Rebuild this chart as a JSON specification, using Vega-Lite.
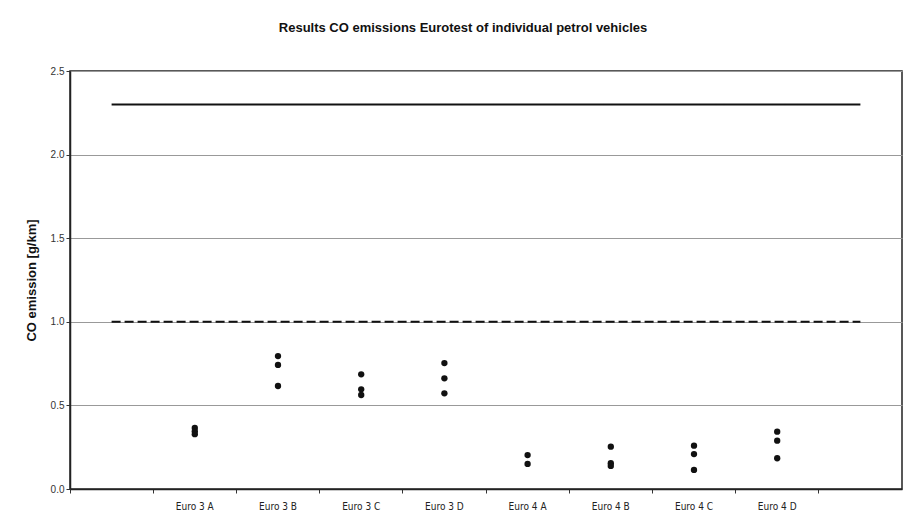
{
  "$schema": "https://vega.github.io/schema/vega-lite/v6.json",
  "autosize": {"type": "none"},
  "width": 832,
  "height": 418,
  "padding": {"left": 70, "top": 71, "right": 5, "bottom": 40},
  "background": "white",
  "title": {
    "text": "Results CO emissions Eurotest of individual petrol vehicles",
    "font": "Liberation Sans",
    "fontSize": 13,
    "fontWeight": "bold",
    "color": "#111",
    "offset": 31,
    "dx": -23
  },
  "config": {
    "view": {"stroke": "#222", "strokeWidth": 1.5},
    "font": "Liberation Sans"
  },
  "datasets": {
    "points": [
      {"category": "Euro 3 A", "co": 0.365},
      {"category": "Euro 3 A", "co": 0.345},
      {"category": "Euro 3 A", "co": 0.328},
      {"category": "Euro 3 B", "co": 0.795},
      {"category": "Euro 3 B", "co": 0.742},
      {"category": "Euro 3 B", "co": 0.616},
      {"category": "Euro 3 C", "co": 0.686},
      {"category": "Euro 3 C", "co": 0.596},
      {"category": "Euro 3 C", "co": 0.562},
      {"category": "Euro 3 D", "co": 0.753},
      {"category": "Euro 3 D", "co": 0.662},
      {"category": "Euro 3 D", "co": 0.572},
      {"category": "Euro 4 A", "co": 0.203},
      {"category": "Euro 4 A", "co": 0.150},
      {"category": "Euro 4 B", "co": 0.253},
      {"category": "Euro 4 B", "co": 0.154},
      {"category": "Euro 4 B", "co": 0.138},
      {"category": "Euro 4 C", "co": 0.259},
      {"category": "Euro 4 C", "co": 0.209},
      {"category": "Euro 4 C", "co": 0.114},
      {"category": "Euro 4 D", "co": 0.343},
      {"category": "Euro 4 D", "co": 0.289},
      {"category": "Euro 4 D", "co": 0.184}
    ],
    "limits": [
      {"category": "_start", "co": 2.3, "limit": "Euro 3"},
      {"category": "_end", "co": 2.3, "limit": "Euro 3"},
      {"category": "_start", "co": 1.0, "limit": "Euro 4"},
      {"category": "_end", "co": 1.0, "limit": "Euro 4"}
    ]
  },
  "encoding": {
    "x": {
      "field": "category",
      "type": "nominal",
      "scale": {
        "type": "band",
        "domain": ["_start", "Euro 3 A", "Euro 3 B", "Euro 3 C", "Euro 3 D", "Euro 4 A", "Euro 4 B", "Euro 4 C", "Euro 4 D", "_end"],
        "paddingInner": 0,
        "paddingOuter": 0
      },
      "axis": {
        "title": null,
        "labelAngle": 0,
        "labelExpr": "substring(datum.value, 0, 1) == '_' ? '' : datum.value",
        "labelFont": "DejaVu Sans Condensed",
        "labelFontSize": 10,
        "labelColor": "#222",
        "labelPadding": 8,
        "bandPosition": 0,
        "ticks": true,
        "tickSize": 4,
        "tickColor": "#333",
        "domainColor": "#222",
        "domainWidth": 1.5,
        "grid": false
      }
    },
    "y": {
      "field": "co",
      "type": "quantitative",
      "scale": {"domain": [0, 2.5], "nice": false},
      "axis": {
        "title": "CO emission [g/km]",
        "titleFont": "Liberation Sans",
        "titleFontSize": 13,
        "titleFontWeight": "bold",
        "titleColor": "#111",
        "titlePadding": 12,
        "values": [0, 0.5, 1, 1.5, 2, 2.5],
        "format": ".1f",
        "labelFontSize": 10,
        "labelColor": "#333",
        "tickSize": 4,
        "tickColor": "#333",
        "domainColor": "#222",
        "domainWidth": 1.5,
        "grid": true,
        "gridColor": "#999",
        "gridWidth": 1
      }
    }
  },
  "layer": [
    {
      "data": {"name": "limits"},
      "mark": {"type": "line", "color": "#111", "strokeWidth": 2},
      "encoding": {
        "detail": {"field": "limit", "type": "nominal"},
        "strokeDash": {
          "field": "limit",
          "type": "nominal",
          "scale": {"domain": ["Euro 3", "Euro 4"], "range": [[1, 0], [9, 4]]},
          "legend": null
        }
      }
    },
    {
      "data": {"name": "points"},
      "mark": {"type": "circle", "color": "#111", "opacity": 1, "size": 40}
    }
  ]
}
